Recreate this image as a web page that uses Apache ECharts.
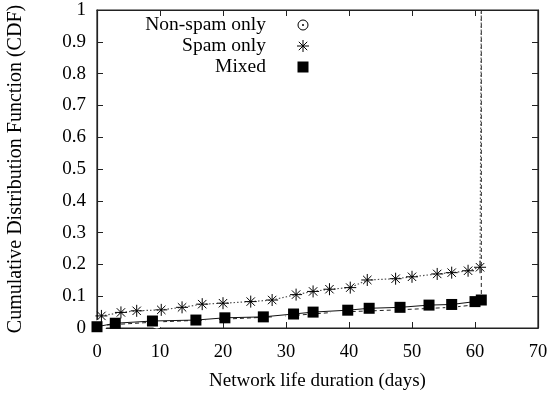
<!DOCTYPE html>
<html>
<head>
<meta charset="utf-8">
<script src="https://cdn.jsdelivr.net/npm/echarts@6/dist/echarts.min.js"></script>
<style>
  html, body { margin: 0; padding: 0; background: #fff; }
  #chart { width: 552px; height: 394px; }
</style>
</head>
<body>
<div id="chart"></div>
<script>
// Network life duration (days) vs. cumulative fraction of networks
const nonSpamX = [0.5, 9.5, 18.2, 28.9, 38.1, 47.8, 56.3, 61];
const nonSpamY = [0.008, 0.019, 0.026, 0.036, 0.050, 0.057, 0.065, 0.075];

const spamX = [0.7, 3.8, 6.3, 10.2, 13.5, 16.7, 20.0, 24.4, 27.8, 31.6, 34.3, 36.9, 40.2, 42.9, 47.4, 50.0, 54.0, 56.3, 58.9, 60.8];
const spamY = [0.038, 0.049, 0.054, 0.057, 0.065, 0.075, 0.078, 0.083, 0.088, 0.105, 0.115, 0.122, 0.127, 0.151, 0.155, 0.161, 0.170, 0.174, 0.180, 0.191];

const mixedX = [0.0, 2.9, 8.8, 15.7, 20.3, 26.4, 31.2, 34.3, 39.8, 43.2, 48.1, 52.7, 56.3, 60.0, 61.0];
const mixedY = [0.004, 0.015, 0.022, 0.025, 0.032, 0.035, 0.044, 0.050, 0.056, 0.062, 0.065, 0.072, 0.074, 0.083, 0.088];

// the single-class curves reach 1 at the end of the observation window
const endDay = 61;
const endValue = 1;

const seriesNames = ['Non-spam only', 'Spam only', 'Mixed'];
const xTicks = [0, 10, 20, 30, 40, 50, 60, 70];
const yTicks = [0, 0.1, 0.2, 0.3, 0.4, 0.5, 0.6, 0.7, 0.8, 0.9, 1];

const FONT = '"Liberation Serif", "DejaVu Serif", serif';
const starPath = 'path://M5,0L5,10M0,5L10,5M1.5,1.5L8.5,8.5M1.5,8.5L8.5,1.5';

function buildData(xs, ys, closeAtOne) {
  const d = xs.map((x, i) => [x, ys[i]]);
  if (closeAtOne) d.push({ value: [endDay, endValue], symbol: 'none' });
  return d;
}

const chart = echarts.init(document.getElementById('chart'), null, { renderer: 'canvas' });

const axisCommon = {
  axisLine: { show: true, onZero: false, lineStyle: { color: '#222', width: 1.2 } },
  axisTick: { show: true, inside: true, length: 6, lineStyle: { color: '#222', width: 1 } },
  splitLine: { show: false }
};

// legend drawn as text + marker rows in the upper left of the plot
const legendX = 266, markerX = 303, legendY0 = 25, legendStep = 21;
const legendGraphics = [];
seriesNames.forEach((name, i) => {
  legendGraphics.push({
    type: 'text', x: legendX, y: legendY0 + i * legendStep,
    style: { text: name, font: '19.5px ' + FONT, fill: '#000', align: 'right', verticalAlign: 'middle' }
  });
});
legendGraphics.push({
  type: 'circle', x: markerX, y: legendY0,
  shape: { r: 5 }, style: { fill: '#fff', stroke: '#000', lineWidth: 1 }
});
legendGraphics.push({
  type: 'circle', x: markerX, y: legendY0,
  shape: { r: 1 }, style: { fill: '#000' }
});
const sy = legendY0 + legendStep;
[[0, -6, 0, 6], [-6, 0, 6, 0], [-4.2, -4.2, 4.2, 4.2], [-4.2, 4.2, 4.2, -4.2]].forEach(s => {
  legendGraphics.push({
    type: 'line', x: markerX, y: sy,
    shape: { x1: s[0], y1: s[1], x2: s[2], y2: s[3] }, style: { stroke: '#000', lineWidth: 1 }
  });
});
legendGraphics.push({
  type: 'rect', x: markerX - 5.5, y: legendY0 + 2 * legendStep - 5.5,
  shape: { width: 11, height: 11 }, style: { fill: '#000' }
});

chart.setOption({
  animation: false,
  backgroundColor: '#fff',
  grid: { left: 97, right: 14, top: 10, bottom: 66, containLabel: false, outerBoundsMode: 'none',
          show: true, borderColor: '#222', borderWidth: 1.2, backgroundColor: 'transparent' },
  xAxis: [
    Object.assign({}, axisCommon, {
      type: 'value', min: xTicks[0], max: xTicks[xTicks.length - 1], interval: 10,
      position: 'bottom',
      axisLabel: { color: '#000', fontFamily: FONT, fontSize: 18.5, margin: 15 },
      name: 'Network life duration (days)', nameLocation: 'middle', nameGap: 44,
      nameTextStyle: { color: '#000', fontFamily: FONT, fontSize: 19 }
    }),
    Object.assign({}, axisCommon, {
      type: 'value', min: xTicks[0], max: xTicks[xTicks.length - 1], interval: 10,
      position: 'top', axisLabel: { show: false }
    })
  ],
  yAxis: [
    Object.assign({}, axisCommon, {
      type: 'value', min: yTicks[0], max: yTicks[yTicks.length - 1], interval: 0.1,
      position: 'left',
      axisLabel: { color: '#000', fontFamily: FONT, fontSize: 19, margin: 11 },
      name: 'Cumulative Distribution Function (CDF)', nameLocation: 'middle', nameGap: 71,
      nameTextStyle: { color: '#000', fontFamily: FONT, fontSize: 20 }
    }),
    Object.assign({}, axisCommon, {
      type: 'value', min: yTicks[0], max: yTicks[yTicks.length - 1], interval: 0.1,
      position: 'right', axisLabel: { show: false }
    })
  ],
  graphic: legendGraphics,
  series: [
    {
      // keeps the mirrored top/right axes active so their ticks are drawn
      type: 'line', xAxisIndex: 1, yAxisIndex: 1, data: [], silent: true
    },
    {
      name: seriesNames[0], type: 'line', xAxisIndex: 0, yAxisIndex: 0,
      data: buildData(nonSpamX, nonSpamY, true),
      symbol: 'emptyCircle', symbolSize: 11,
      lineStyle: { color: '#222', width: 1, type: [4, 3] },
      itemStyle: { color: '#fff', borderColor: '#000', borderWidth: 1 },
      z: 2
    },
    {
      name: seriesNames[1], type: 'line', xAxisIndex: 0, yAxisIndex: 0,
      data: buildData(spamX, spamY, true),
      symbol: starPath, symbolSize: 12,
      lineStyle: { color: '#555', width: 1.2, type: [1.5, 2] },
      itemStyle: { color: '#000', borderColor: '#000', borderWidth: 1 },
      z: 3
    },
    {
      name: seriesNames[2], type: 'line', xAxisIndex: 0, yAxisIndex: 0,
      data: buildData(mixedX, mixedY, false),
      symbol: 'rect', symbolSize: 11,
      lineStyle: { color: '#111', width: 1 },
      itemStyle: { color: '#000' },
      z: 4
    }
  ]
});
</script>
</body>
</html>
